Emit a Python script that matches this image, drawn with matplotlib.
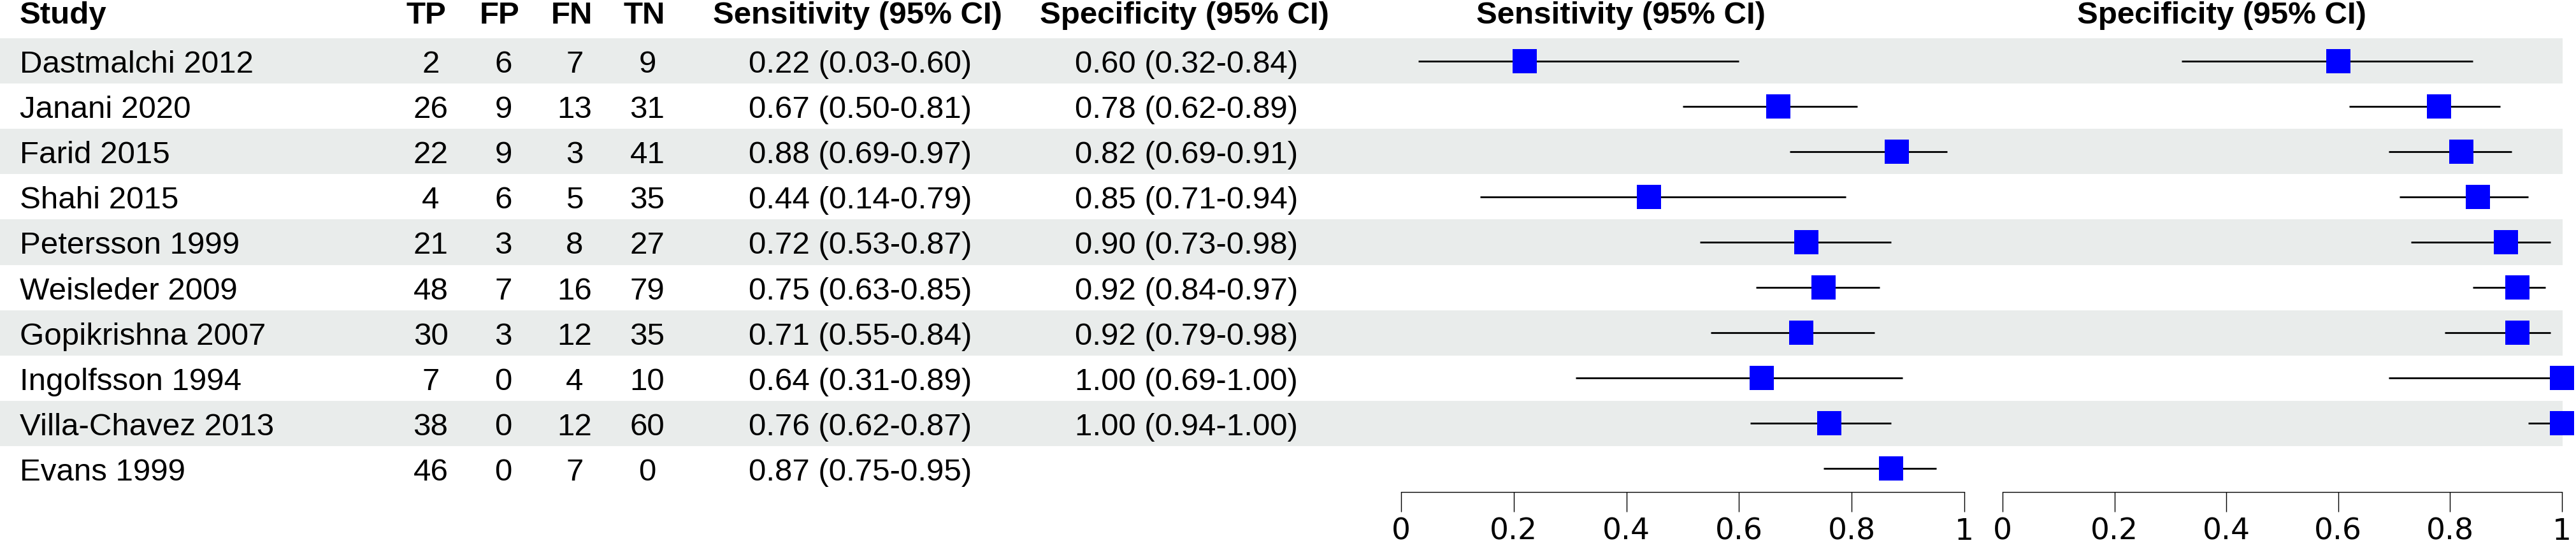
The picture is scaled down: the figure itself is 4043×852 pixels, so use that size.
import matplotlib
matplotlib.use('Agg')
from matplotlib import pyplot as plt
import numpy as np

studies = ['Dastmalchi 2012', 'Janani 2020', 'Farid 2015', 'Shahi 2015', 'Petersson 1999',
           'Weisleder 2009', 'Gopikrishna 2007', 'Ingolfsson 1994', 'Villa-Chavez 2013', 'Evans 1999']
tp = [2, 26, 22, 4, 21, 48, 30, 7, 38, 46]
fp = [6, 9, 9, 6, 3, 7, 3, 0, 0, 0]
fn = [7, 13, 3, 5, 8, 16, 12, 4, 12, 7]
tn = [9, 31, 41, 35, 27, 79, 35, 10, 60, 0]
sens = [0.22, 0.67, 0.88, 0.44, 0.72, 0.75, 0.71, 0.64, 0.76, 0.87]
sens_lo = [0.03, 0.50, 0.69, 0.14, 0.53, 0.63, 0.55, 0.31, 0.62, 0.75]
sens_hi = [0.60, 0.81, 0.97, 0.79, 0.87, 0.85, 0.84, 0.89, 0.87, 0.95]
spec = [0.60, 0.78, 0.82, 0.85, 0.90, 0.92, 0.92, 1.00, 1.00, None]
spec_lo = [0.32, 0.62, 0.69, 0.71, 0.73, 0.84, 0.79, 0.69, 0.94, None]
spec_hi = [0.84, 0.89, 0.91, 0.94, 0.98, 0.97, 0.98, 1.00, 1.00, None]
ticks = [0, 0.2, 0.4, 0.6, 0.8, 1]
tick_labels = ['0', '0.2', '0.4', '0.6', '0.8', '1']

plt.rcParams['font.family'] = ['Liberation Sans', 'DejaVu Sans']
FS = 35.5
W, H = 4043, 853
ROW0, ROWH = 61, 71.1
AXB = 773  # pixel y of the forest axis line

fig = plt.figure(figsize=(W / 100, H / 100), dpi=100)
bg = fig.add_axes([0, 0, 1, 1])
bg.set_xlim(0, W)
bg.set_ylim(H, 0)
bg.axis('off')

n = len(studies)
yc = [ROW0 + ROWH * (i + 0.5) for i in range(n)]

# zebra stripes
for i in range(0, n, 2):
    bg.axhspan(ROW0 + ROWH * i, ROW0 + ROWH * (i + 1), xmin=0, xmax=4022 / W,
               color='#e9eceb', lw=0, zorder=0)

# header
hb = 37
bg.text(31, hb, 'Study', fontsize=FS, fontweight='bold', va='baseline')
for x, s in [(669, 'TP'), (784, 'FP'), (897, 'FN'), (1011, 'TN'),
             (1346, 'Sensitivity (95% CI)'), (1859, 'Specificity (95% CI)'),
             (2544, 'Sensitivity (95% CI)'), (3487, 'Specificity (95% CI)')]:
    bg.text(x, hb, s, fontsize=FS, fontweight='bold', va='baseline', ha='center')

def fmt(v, lo, hi):
    if v is None:
        return ''
    return f'{v:.2f} ({lo:.2f}-{hi:.2f})'

for i in range(n):
    b = yc[i] + 17.5
    bg.text(31, b, studies[i], fontsize=FS, va='baseline')
    for x, v in [(676, tp[i]), (790, fp[i]), (902, fn[i]), (1016, tn[i])]:
        bg.text(x, b, str(v), fontsize=FS, va='baseline', ha='center')
    bg.text(1350, b, fmt(sens[i], sens_lo[i], sens_hi[i]), fontsize=FS, va='baseline', ha='center')
    bg.text(1862, b, fmt(spec[i], spec_lo[i], spec_hi[i]), fontsize=FS, va='baseline', ha='center')

def forest(x0, x1, est, lo, hi):
    ax = fig.add_axes([x0 / W, (H - AXB) / H, (x1 - x0) / W, AXB / H])
    ax.set_xlim(0, 1)
    ax.set_ylim(AXB, 0)
    ax.patch.set_alpha(0)
    for s in ['top', 'left', 'right']:
        ax.spines[s].set_visible(False)
    ax.spines['bottom'].set_linewidth(1.0)
    ax.set_yticks([])
    ax.set_xticks(ticks)
    ax.set_xticklabels(tick_labels, fontsize=34, family='DejaVu Sans')
    ax.tick_params(axis='x', direction='out', length=22, width=1.0, pad=6)
    for i in range(n):
        if est[i] is None:
            continue
        ax.plot([lo[i], hi[i]], [yc[i], yc[i]], color='black', lw=2.0,
                solid_capstyle='butt', clip_on=False, zorder=2)
        ax.plot([est[i]], [yc[i]], marker='s', ms=27, color='#0000ff',
                mew=0, clip_on=False, zorder=3)
    return ax

forest(2199, 3083, sens, sens_lo, sens_hi)
forest(3143, 4021, spec, spec_lo, spec_hi)

fig.savefig('out.png', dpi=100)
